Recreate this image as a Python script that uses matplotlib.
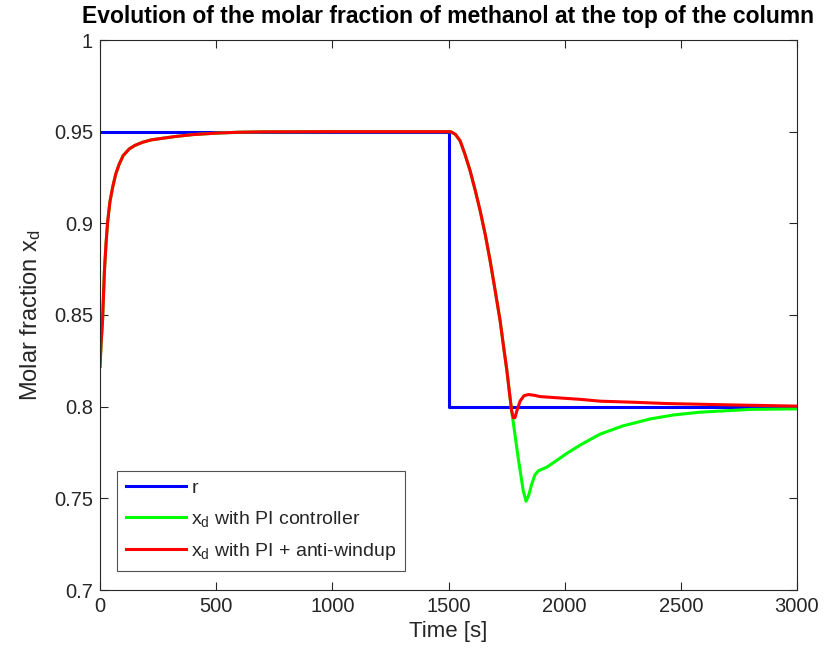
import matplotlib
matplotlib.use("Agg")
import matplotlib.pyplot as plt

plt.rcParams['font.family'] = ['Liberation Sans', 'DejaVu Sans']
plt.rcParams['mathtext.fontset'] = 'custom'
plt.rcParams['mathtext.rm'] = 'Liberation Sans'
plt.rcParams['mathtext.it'] = 'Liberation Sans'

# reference setpoint r(t)
t_ref = [0, 1500, 1500, 3000]
r_ref = [0.95, 0.95, 0.80, 0.80]

# x_d with PI + anti-windup
t_aw = [0, 5, 11, 19, 26, 33, 43, 55, 68, 83, 100, 126, 150, 183, 220, 269, 327,
        400, 500, 600, 700, 1000, 1500,
        1507, 1514, 1530, 1550, 1570, 1593, 1615, 1636, 1658, 1679, 1700, 1722,
        1740, 1751, 1762, 1772, 1779, 1786, 1795, 1808, 1825, 1844, 1870, 1894,
        1950, 2066, 2152, 2300, 2439, 2700, 3000]
x_aw = [0.822, 0.835, 0.847, 0.874, 0.889, 0.901, 0.912, 0.920, 0.927, 0.9324,
        0.937, 0.9406, 0.9425, 0.9442, 0.9455, 0.9464, 0.9474,
        0.9484, 0.9492, 0.9497, 0.9499, 0.95, 0.95,
        0.95, 0.9497, 0.9485, 0.945, 0.938, 0.9287, 0.918, 0.907, 0.894, 0.8797,
        0.864, 0.847, 0.830, 0.820, 0.808, 0.7975, 0.794, 0.794, 0.798, 0.803,
        0.806, 0.8066, 0.8062, 0.8055, 0.805, 0.804, 0.803, 0.8024, 0.8017,
        0.801, 0.8003]

# x_d with plain PI (identical to the anti-windup run until ~1776 s)
t_pi_tail = [1776, 1800, 1822, 1834, 1846, 1858, 1872, 1887, 1905, 1923, 1966,
             2009, 2066, 2152, 2250, 2368, 2470, 2583, 2800, 3000]
x_pi_tail = [0.794, 0.772, 0.754, 0.7484, 0.752, 0.7577, 0.7628, 0.765, 0.766, 0.767,
             0.7707, 0.7745, 0.779, 0.785, 0.7895, 0.7933, 0.7955, 0.797, 0.7985, 0.7988]

k = sum(1 for t in t_aw if t < t_pi_tail[0])
t_pi = t_aw[:k] + t_pi_tail
x_pi = x_aw[:k] + x_pi_tail

fig = plt.figure(figsize=(8.27, 6.59), dpi=100)
ax = fig.add_axes([100 / 827, 69 / 659, 697 / 827, 550 / 659])

ax.plot(t_ref, r_ref, color='#0000ff', lw=2.2, label='r')
ax.plot(t_pi, x_pi, color='#00ff00', lw=2.2, label='x$_\\mathregular{d}$ with PI controller')
ax.plot(t_aw, x_aw, color='#ff0000', lw=2.2, label='x$_\\mathregular{d}$ with PI + anti-windup')

ax.set_xlim(0, 3000)
ax.set_ylim(0.7, 1.0)
ax.set_xticks([0, 500, 1000, 1500, 2000, 2500, 3000])
ax.set_yticks([0.7, 0.75, 0.8, 0.85, 0.9, 0.95, 1.0])
ax.set_yticklabels(['0.7', '0.75', '0.8', '0.85', '0.9', '0.95', '1'])

grey = '#262626'
for s in ax.spines.values():
    s.set_color(grey)
    s.set_linewidth(0.8)
ax.tick_params(direction='in', top=True, right=True, length=6, width=0.8,
               colors=grey, labelsize=14.5, pad=5)

ax.set_xlabel('Time [s]', fontsize=16, color=grey, labelpad=4)
ax.set_ylabel('Molar fraction x$_\\mathregular{d}$', fontsize=17, color=grey, labelpad=8)
ax.set_title('Evolution of the molar fraction of methanol at the top of the column',
             fontsize=16.5, fontweight='bold', color='black', pad=12)

leg = ax.legend(loc='lower left', bbox_to_anchor=(0.025, 0.035), fontsize=14,
                frameon=True, fancybox=False, edgecolor=grey, handlelength=3.1,
                handletextpad=0.25, borderaxespad=0, labelspacing=0.62, borderpad=0.45)
leg.get_frame().set_linewidth(0.8)
for txt in leg.get_texts():
    txt.set_color(grey)

fig.savefig('out.png', dpi=100)
